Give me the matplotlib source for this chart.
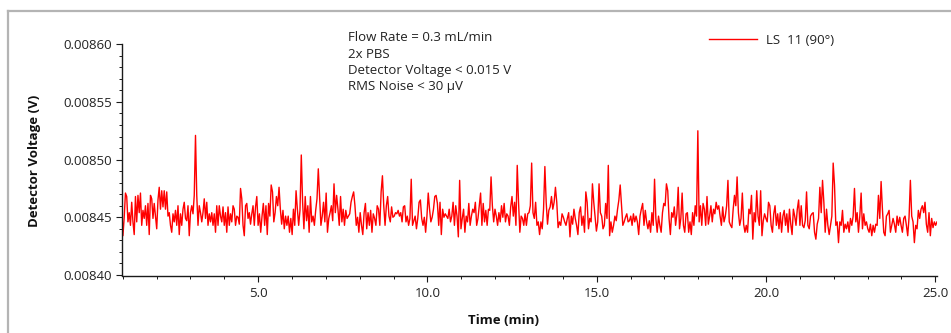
import numpy as np
import matplotlib
matplotlib.use("Agg")
import matplotlib.pyplot as plt
from matplotlib.ticker import MultipleLocator, FormatStrFormatter
from matplotlib.lines import Line2D

# ---- data (detector voltage in microvolts) ----
segment_edges_min = [0.97, 4.96, 8.98, 13.00, 17.02, 21.04, 25.05]

seg1_uV = [8459, 8434, 8450, 8471, 8468, 8446, 8454, 8443, 8463, 8446, 8435, 8468, 8446, 8469, 8454, 8471,
           8443, 8456, 8449, 8460, 8443, 8462, 8435, 8469, 8466, 8449, 8462, 8451, 8440, 8465, 8476, 8457,
           8473, 8459, 8473, 8457, 8472, 8451, 8454, 8443, 8437, 8453, 8446, 8456, 8443, 8460, 8435, 8453,
           8443, 8457, 8463, 8449, 8447, 8460, 8434, 8454, 8460, 8453, 8469, 8521, 8469, 8443, 8460, 8454,
           8446, 8454, 8466, 8449, 8463, 8443, 8453, 8446, 8454, 8443, 8453, 8437, 8460, 8443, 8460, 8451,
           8446, 8459, 8443, 8454, 8437, 8459, 8443, 8453, 8446, 8460, 8457, 8443, 8451, 8450, 8444, 8475,
           8466, 8443, 8434, 8460, 8462, 8449, 8454, 8444, 8453, 8460, 8443, 8459]

seg2_uV = [8468, 8443, 8453, 8437, 8451, 8462, 8443, 8460, 8435, 8462, 8451, 8478, 8472, 8446, 8454, 8468,
           8460, 8476, 8457, 8444, 8456, 8440, 8451, 8443, 8451, 8437, 8449, 8435, 8457, 8443, 8473, 8457,
           8443, 8456, 8504, 8463, 8440, 8468, 8447, 8460, 8437, 8468, 8446, 8451, 8443, 8456, 8466, 8492,
           8468, 8443, 8451, 8463, 8446, 8471, 8437, 8449, 8454, 8460, 8447, 8479, 8454, 8469, 8457, 8443,
           8468, 8446, 8457, 8443, 8456, 8449, 8451, 8453, 8463, 8468, 8472, 8460, 8443, 8450, 8437, 8454,
           8443, 8435, 8454, 8462, 8440, 8454, 8443, 8456, 8437, 8453, 8449, 8443, 8460, 8457, 8443, 8472,
           8486, 8460, 8443, 8460, 8468, 8451, 8446, 8459]

seg3_uV = [8450, 8451, 8454, 8453, 8456, 8451, 8454, 8446, 8459, 8460, 8446, 8451, 8443, 8449, 8483, 8443,
           8447, 8451, 8440, 8449, 8463, 8465, 8449, 8443, 8450, 8437, 8451, 8471, 8457, 8446, 8450, 8457,
           8468, 8469, 8462, 8443, 8463, 8435, 8457, 8450, 8453, 8451, 8449, 8457, 8446, 8451, 8463, 8443,
           8460, 8451, 8433, 8482, 8440, 8449, 8457, 8437, 8451, 8446, 8462, 8443, 8451, 8457, 8454, 8463,
           8443, 8449, 8460, 8471, 8443, 8462, 8446, 8456, 8443, 8457, 8456, 8485, 8460, 8446, 8457, 8451,
           8443, 8454, 8446, 8460, 8450, 8462, 8446, 8453, 8451, 8443, 8459, 8468, 8451, 8463, 8443, 8495,
           8463, 8437, 8451, 8449, 8443, 8453, 8443, 8453]

seg4_uV = [8454, 8460, 8497, 8454, 8449, 8463, 8443, 8446, 8435, 8446, 8440, 8457, 8494, 8463, 8444, 8456,
           8459, 8468, 8457, 8463, 8476, 8463, 8441, 8446, 8443, 8453, 8450, 8446, 8443, 8449, 8454, 8433,
           8451, 8444, 8457, 8449, 8443, 8435, 8454, 8459, 8443, 8451, 8437, 8472, 8463, 8440, 8449, 8446,
           8479, 8463, 8451, 8438, 8446, 8479, 8454, 8451, 8440, 8443, 8462, 8449, 8495, 8434, 8446, 8437,
           8443, 8451, 8447, 8457, 8465, 8478, 8460, 8443, 8446, 8450, 8453, 8446, 8447, 8451, 8443, 8453,
           8446, 8451, 8446, 8435, 8451, 8457, 8462, 8443, 8456, 8446, 8440, 8447, 8437, 8454, 8443, 8483,
           8449, 8437, 8451, 8443, 8437, 8454, 8462]

seg5_uV = [8460, 8479, 8473, 8449, 8435, 8454, 8450, 8459, 8443, 8453, 8476, 8440, 8449, 8471, 8443, 8437,
           8453, 8454, 8437, 8446, 8435, 8454, 8443, 8460, 8451, 8525, 8446, 8460, 8443, 8462, 8457, 8443,
           8468, 8444, 8451, 8460, 8446, 8457, 8453, 8463, 8457, 8460, 8451, 8443, 8459, 8446, 8451, 8460,
           8482, 8446, 8443, 8441, 8457, 8469, 8460, 8485, 8454, 8443, 8449, 8471, 8444, 8437, 8443, 8437,
           8457, 8453, 8469, 8431, 8454, 8446, 8473, 8451, 8443, 8473, 8434, 8447, 8453, 8449, 8446, 8463,
           8460, 8443, 8437, 8453, 8460, 8443, 8453, 8440, 8454, 8437, 8451, 8456, 8443, 8453, 8437, 8457,
           8444, 8435, 8457, 8451, 8443, 8457, 8465, 8443]

seg6_uV = [8460, 8443, 8441, 8447, 8472, 8443, 8440, 8451, 8453, 8454, 8437, 8431, 8444, 8449, 8476, 8454,
           8482, 8463, 8437, 8457, 8443, 8435, 8443, 8451, 8497, 8478, 8443, 8446, 8428, 8446, 8443, 8456,
           8437, 8444, 8440, 8446, 8437, 8449, 8443, 8451, 8475, 8446, 8454, 8437, 8451, 8471, 8440, 8453,
           8443, 8446, 8440, 8437, 8444, 8434, 8443, 8437, 8444, 8443, 8469, 8449, 8481, 8457, 8437, 8434,
           8451, 8453, 8456, 8437, 8443, 8449, 8444, 8437, 8451, 8443, 8450, 8443, 8437, 8449, 8451, 8443,
           8434, 8450, 8482, 8451, 8446, 8428, 8443, 8440, 8456, 8449, 8457, 8460, 8454, 8463, 8444, 8437,
           8454, 8434, 8449, 8441, 8446, 8443, 8446]

segments_uV = [seg1_uV, seg2_uV, seg3_uV, seg4_uV, seg5_uV, seg6_uV]

series_label = "LS  11 (90°)"
annotation_lines = ["Flow Rate = 0.3 mL/min", "2x PBS", "Detector Voltage < 0.015 V", "RMS Noise < 30 µV"]
x_label = "Time (min)"
y_label = "Detector Voltage (V)"

# ---- build time axis per segment (uniform sampling inside each segment) ----
times = []
volts = []
for i, seg in enumerate(segments_uV):
    last = i == len(segments_uV) - 1
    t = np.linspace(segment_edges_min[i], segment_edges_min[i + 1], len(seg), endpoint=last)
    times.append(t)
    volts.append(np.array(seg) * 1e-6)
time = np.concatenate(times)
voltage = np.concatenate(volts)

# ---- figure ----
FONT = "Open Sans"
plt.rcParams["font.family"] = [FONT, "DejaVu Sans"]
W, H = 951, 333
fig = plt.figure(figsize=(W / 100, H / 100), dpi=100)
fig.patch.set_facecolor("white")

left, right, top, bottom = 121.7, 937.0, 44.3, 275.5
ax = fig.add_axes([left / W, 1 - bottom / H, (right - left) / W, (bottom - top) / H])
ax.plot(time, voltage, color="#ff0000", lw=1.0, label=series_label)

ax.set_xlim(segment_edges_min[0], segment_edges_min[-1])
ax.set_ylim(0.0083995, 0.0086)

ax.xaxis.set_major_locator(MultipleLocator(5))
ax.xaxis.set_minor_locator(MultipleLocator(1))
ax.xaxis.set_major_formatter(FormatStrFormatter("%.1f"))
ax.yaxis.set_major_locator(MultipleLocator(0.00005))
ax.yaxis.set_minor_locator(MultipleLocator(0.00001))
ax.yaxis.set_major_formatter(FormatStrFormatter("%.5f"))

for s in ["top", "right"]:
    ax.spines[s].set_visible(False)
for s in ["left", "bottom"]:
    ax.spines[s].set_color("#1a1a1a")
    ax.spines[s].set_linewidth(1.0)

ax.tick_params(axis="both", which="major", length=4, width=0.8, color="#1a1a1a",
               labelsize=9.5, labelcolor="#222222", pad=3)
ax.tick_params(axis="both", which="minor", length=2.5, width=0.7, color="#1a1a1a")
ax.tick_params(axis="x", which="major", pad=4.5)

fig.text(35 / W, 1 - 161 / H, y_label, rotation=90, ha="center", va="center",
         fontsize=9.5, fontweight="bold", color="#111111")
fig.text(503 / W, 1 - 321 / H, x_label, ha="center", va="center",
         fontsize=9.5, fontweight="bold", color="#111111")

ann_y = [37.3, 54.0, 70.5, 86.7]
for line, yy in zip(annotation_lines, ann_y):
    fig.text(348 / W, 1 - yy / H, line, ha="left", va="center", fontsize=9.5, color="#222222")

leg = ax.legend(loc="center left", bbox_to_anchor=(709 / W, 1 - 40.3 / H), bbox_transform=fig.transFigure,
                frameon=False, borderpad=0, borderaxespad=0, handlelength=3.6, handletextpad=0.75,
                fontsize=9.5)
for txt in leg.get_texts():
    txt.set_color("#222222")

# grey frame (top and left edges)
fig.add_artist(Line2D([8 / W, 1.0], [1 - 11 / H, 1 - 11 / H], transform=fig.transFigure,
                      color="#b4b4b4", lw=1.6))
fig.add_artist(Line2D([8 / W, 8 / W], [0.0, 1 - 11 / H], transform=fig.transFigure,
                      color="#b4b4b4", lw=1.6))

fig.savefig("out.png", dpi=100, facecolor="white")
